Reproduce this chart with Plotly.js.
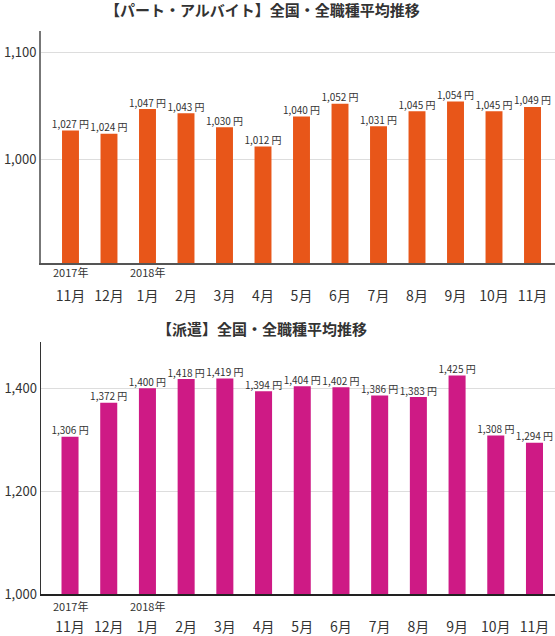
<!DOCTYPE html>
<html>
<head>
<meta charset="utf-8">
<script src="https://cdn.plot.ly/plotly-3.0.1.min.js"></script>
<style>html,body{margin:0;padding:0;background:#fff;}#chart{width:555px;height:636px;}</style>
</head>
<body>
<div id="chart"></div>
<script>
// Data
var months = ["11月", "12月", "1月", "2月", "3月", "4月", "5月", "6月", "7月", "8月", "9月", "10月", "11月"];
var yearLabels = ["2017年", "2018年"];
var yearIndex = [0, 2];
var partTimeValues = [1027, 1024, 1047, 1043, 1030, 1012, 1040, 1052, 1031, 1045, 1054, 1045, 1049];
var dispatchValues = [1306, 1372, 1400, 1418, 1419, 1394, 1404, 1402, 1386, 1383, 1425, 1308, 1294];
var topTitle = "【パート・アルバイト】全国・全職種平均推移";
var bottomTitle = "【派遣】全国・全職種平均推移";

var idx = months.map(function(_, i){ return i; });
function fmt(v){ return v.toLocaleString('en-US') + " 円"; }

var FONT = "'Noto Sans CJK JP', 'Noto Sans', sans-serif";
var TXT = "#333333";

var traces = [
  {type:'bar', x: idx, y: partTimeValues, xaxis:'x', yaxis:'y', width:0.44,
   marker:{color:'#E85619'}, hoverinfo:'skip'},
  {type:'scatter', mode:'text', x: idx, y: partTimeValues, xaxis:'x', yaxis:'y',
   text: partTimeValues.map(fmt), textposition:'top center',
   textfont:{size:10, color:TXT, family:FONT}, cliponaxis:false, hoverinfo:'skip'},
  {type:'bar', x: idx, y: dispatchValues, xaxis:'x2', yaxis:'y2', width:0.44,
   marker:{color:'#CE1A85'}, hoverinfo:'skip'},
  {type:'scatter', mode:'text', x: idx, y: dispatchValues, xaxis:'x2', yaxis:'y2',
   text: dispatchValues.map(fmt), textposition:'top center',
   textfont:{size:10, color:TXT, family:FONT}, cliponaxis:false, hoverinfo:'skip'}
];

var xcommon = {
  tickmode:'array', tickvals: idx, ticktext: months, ticks:'',
  showgrid:false, zeroline:false, showline:true, linewidth:1.5,
  ticklabelstandoff: 20,
  tickfont:{size:14, color:TXT, family:FONT}, fixedrange:true
};

var annotations = [
  {text: topTitle, xref:'paper', yref:'paper', x:0.43, y:1-10/636, showarrow:false,
   font:{size:15, color:TXT, family:FONT, weight:'bold'}, xanchor:'center', yanchor:'middle'},
  {text: bottomTitle, xref:'paper', yref:'paper', x:0.43, y:1-328/636, showarrow:false,
   font:{size:15, color:TXT, family:FONT, weight:'bold'}, xanchor:'center', yanchor:'middle'}
];
yearIndex.forEach(function(k, j){
  annotations.push({text: yearLabels[j], xref:'x', yref:'paper', x:k, y:1-272/636,
    showarrow:false, font:{size:11, color:TXT, family:FONT}, xanchor:'center', yanchor:'middle'});
  annotations.push({text: yearLabels[j], xref:'x2', yref:'paper', x:k, y:1-606/636,
    showarrow:false, font:{size:11, color:TXT, family:FONT}, xanchor:'center', yanchor:'middle'});
});

var layout = {
  width:555, height:636,
  margin:{l:41, r:0, t:0, b:0},
  paper_bgcolor:'#ffffff', plot_bgcolor:'#ffffff',
  showlegend:false, bargap:0.5,
  font:{family:FONT, color:TXT},
  xaxis: Object.assign({}, xcommon, {range:[-0.766, 12.584], anchor:'y', linecolor:'#555555'}),
  xaxis2: Object.assign({}, xcommon, {range:[-0.75, 12.53], anchor:'y2', linecolor:'#222222'}),
  yaxis: {domain:[1-263/636, 1-31/636], range:[903, 1120], tickvals:[1000, 1100],
    ticktext:['1,000','1,100'], showgrid:true, gridcolor:'#dddddd', zeroline:false,
    showline:true, linecolor:'#777777', linewidth:2, ticks:'', ticklen:0,
    tickfont:{size:13, color:TXT, family:FONT}, anchor:'x', fixedrange:true},
  yaxis2: {domain:[1-594/636, 1-342/636], range:[1000, 1490], tickvals:[1000, 1200, 1400],
    ticktext:['1,000','1,200','1,400'], showgrid:true, gridcolor:'#dddddd', zeroline:false,
    showline:true, linecolor:'#333333', linewidth:1.5, ticks:'', ticklen:0,
    tickfont:{size:13, color:TXT, family:FONT}, anchor:'x2', fixedrange:true},
  annotations: annotations
};

Plotly.newPlot('chart', traces, layout, {displayModeBar:false, staticPlot:true});
</script>
</body>
</html>
